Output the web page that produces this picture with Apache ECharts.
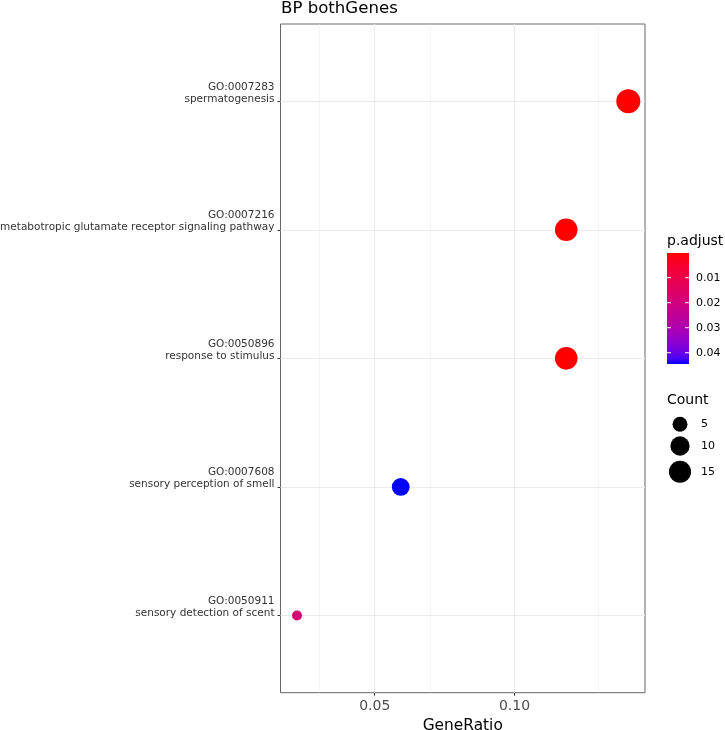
<!DOCTYPE html>
<html><head><meta charset="utf-8">
<script src="https://cdn.jsdelivr.net/npm/echarts@6/dist/echarts.min.js"></script>
<style>html,body{margin:0;padding:0;background:#fff}#c{width:725px;height:730px}</style>
</head><body><div id="c"></div>
<script>
// ---- data (bottom to top) ----
const goIds = ['GO:0050911', 'GO:0007608', 'GO:0050896', 'GO:0007216', 'GO:0007283'];
const descriptions = ['sensory detection of scent', 'sensory perception of smell', 'response to stimulus',
  'metabotropic glutamate receptor signaling pathway', 'spermatogenesis'];
const geneRatio = [0.0222, 0.0593, 0.1185, 0.1185, 0.1407];
const counts = [3, 8, 16, 16, 19];
const pAdjust = [0.018, 0.0445, 0.00025, 0.00015, 0.00012];
const xTicks = [0.05, 0.10];
const xMinorGrid = [0.025, 0.075, 0.125];
const colorbarTicks = [0.01, 0.02, 0.03, 0.04];
const sizeLegend = [5, 10, 15];

// ---- helpers: Lab interpolation like ggplot's gradient ----
function srgbToLin(c){c/=255;return c<=0.04045?c/12.92:Math.pow((c+0.055)/1.055,2.4);}
function linToSrgb(c){c=Math.max(0,Math.min(1,c));const v=c<=0.0031308?12.92*c:1.055*Math.pow(c,1/2.4)-0.055;return Math.round(Math.max(0,Math.min(1,v))*255);}
function rgbToLab(r,g,b){
  const R=srgbToLin(r),G=srgbToLin(g),B=srgbToLin(b);
  let X=(0.4124*R+0.3576*G+0.1805*B)/0.95047,Y=(0.2126*R+0.7152*G+0.0722*B),Z=(0.0193*R+0.1192*G+0.9505*B)/1.08883;
  const f=t=>t>0.008856?Math.cbrt(t):7.787*t+16/116;
  const fx=f(X),fy=f(Y),fz=f(Z);
  return [116*fy-16,500*(fx-fy),200*(fy-fz)];
}
function labToRgb(L,a,b){
  const fy=(L+16)/116,fx=fy+a/500,fz=fy-b/200;
  const fi=t=>t*t*t>0.008856?t*t*t:(t-16/116)/7.787;
  const X=fi(fx)*0.95047,Y=fi(fy),Z=fi(fz)*1.08883;
  const R=3.2406*X-1.5372*Y-0.4986*Z,G=-0.9689*X+1.8758*Y+0.0415*Z,B=0.0557*X-0.2040*Y+1.0570*Z;
  return 'rgb('+linToSrgb(R)+','+linToSrgb(G)+','+linToSrgb(B)+')';
}
const labLow=rgbToLab(255,0,0), labHigh=rgbToLab(0,0,255);
const nStops=21;
const colorStopsArr=[];
for(let i=0;i<nStops;i++){const t=i/(nStops-1);
  colorStopsArr.push(labToRgb(labLow[0]+(labHigh[0]-labLow[0])*t,labLow[1]+(labHigh[1]-labLow[1])*t,labLow[2]+(labHigh[2]-labLow[2])*t));}

const pMin=Math.min(...pAdjust), pMax=Math.max(...pAdjust);
const cMin=Math.min(...counts), cMax=Math.max(...counts);
function sizeFor(c){const s=3+5*Math.sqrt((c-cMin)/(cMax-cMin));return 2.8*s+1.6;}

const pts=geneRatio.map((g,i)=>[g,i+1,counts[i],pAdjust[i]]);

// ---- legend graphics ----
const FONT='DejaVu Sans';
const cbX=667, cbY=253, cbW=22, cbH=111;
const graphics=[];
graphics.push({type:'text',left:667,top:234,style:{text:'p.adjust',font:'14px "DejaVu Sans"',fill:'#000'}});
graphics.push({type:'rect',shape:{x:cbX,y:cbY,width:cbW,height:cbH},
  style:{fill:{type:'linear',x:0,y:0,x2:0,y2:1,colorStops:colorStopsArr.map((c,i)=>({offset:i/(nStops-1),color:c}))}}});
colorbarTicks.forEach(v=>{
  const y=cbY+(v-pMin)/(pMax-pMin)*cbH;
  graphics.push({type:'line',shape:{x1:cbX,y1:y,x2:cbX+4,y2:y},style:{stroke:'#fff',lineWidth:1}});
  graphics.push({type:'line',shape:{x1:cbX+cbW-4,y1:y,x2:cbX+cbW,y2:y},style:{stroke:'#fff',lineWidth:1}});
  graphics.push({type:'text',x:696,y:y,style:{text:v.toFixed(2),font:'11px "DejaVu Sans"',fill:'#000',verticalAlign:'middle',align:'left'}});
});
graphics.push({type:'text',left:667,top:393,style:{text:'Count',font:'14px "DejaVu Sans"',fill:'#000'}});
const sizeYs=[424.3,446,471.7];
sizeLegend.forEach((c,i)=>{
  graphics.push({type:'circle',shape:{cx:680,cy:sizeYs[i],r:sizeFor(c)/2},style:{fill:'#000'}});
  graphics.push({type:'text',x:701,y:sizeYs[i],style:{text:String(c),font:'11px "DejaVu Sans"',fill:'#000',verticalAlign:'middle',align:'left'}});
});

const gridMarks=[]
  .concat(xTicks.map(v=>({xAxis:v,lineStyle:{width:1.1}})))
  .concat(xMinorGrid.map(v=>({xAxis:v,lineStyle:{width:0.55}})))
  .concat(goIds.map((_,i)=>({yAxis:i+1,lineStyle:{width:1.1}})));

const chart=echarts.init(document.getElementById('c'),null,{renderer:'canvas'});
chart.setOption({
  animation:false,
  backgroundColor:'#fff',
  textStyle:{fontFamily:FONT},
  title:{text:'BP bothGenes',left:281,top:0,padding:0,textStyle:{fontFamily:FONT,fontSize:16.6,fontWeight:'normal',color:'#000'}},
  grid:{left:280.5,right:80,top:24,bottom:37.3,outerBoundsMode:'none',containLabel:false,show:true,borderColor:'#666',borderWidth:1,backgroundColor:'transparent'},
  xAxis:{type:'value',min:0.01630,max:0.14667,
    name:'GeneRatio',nameLocation:'middle',nameGap:24.5,nameTextStyle:{fontFamily:FONT,fontSize:15.4,color:'#000'},
    axisLine:{show:false},
    axisTick:{show:true,length:3,lineStyle:{color:'#333'},customValues:xTicks},
    axisLabel:{customValues:xTicks,margin:7,fontFamily:FONT,fontSize:14,color:'#4D4D4D',formatter:v=>v.toFixed(2)},
    splitLine:{show:false},minorSplitLine:{show:false}},
  yAxis:{type:'value',min:0.4,max:5.6,
    axisLine:{show:false},
    axisTick:{show:true,length:3,lineStyle:{color:'#333'},customValues:[1,2,3,4,5]},
    axisLabel:{customValues:[1,2,3,4,5],margin:6,fontFamily:FONT,fontSize:10.5,lineHeight:12,color:'#333',
      verticalAlign:'middle',
      rich:{a:{fontFamily:FONT,fontSize:10.5,lineHeight:12,color:'#333'},s:{fontSize:10,lineHeight:16.6}},
      formatter:v=>{const i=Math.round(v)-1;return '{a|'+goIds[i]+'}\n{a|'+descriptions[i]+'}\n{s| }';}},
    splitLine:{show:false}},
  visualMap:{show:false,type:'continuous',dimension:3,min:pMin,max:pMax,seriesIndex:1,inRange:{color:colorStopsArr}},
  series:[
    {type:'scatter',data:pts,symbolSize:0,silent:true,z:1,zlevel:0,
      markLine:{silent:true,symbol:'none',z:1,label:{show:false},lineStyle:{color:'#EBEBEB',type:'solid'},data:gridMarks}},
    {type:'scatter',data:pts,z:10,symbolSize:d=>sizeFor(d[2]),itemStyle:{opacity:1}}
  ],
  graphic:graphics
});
</script></body></html>
